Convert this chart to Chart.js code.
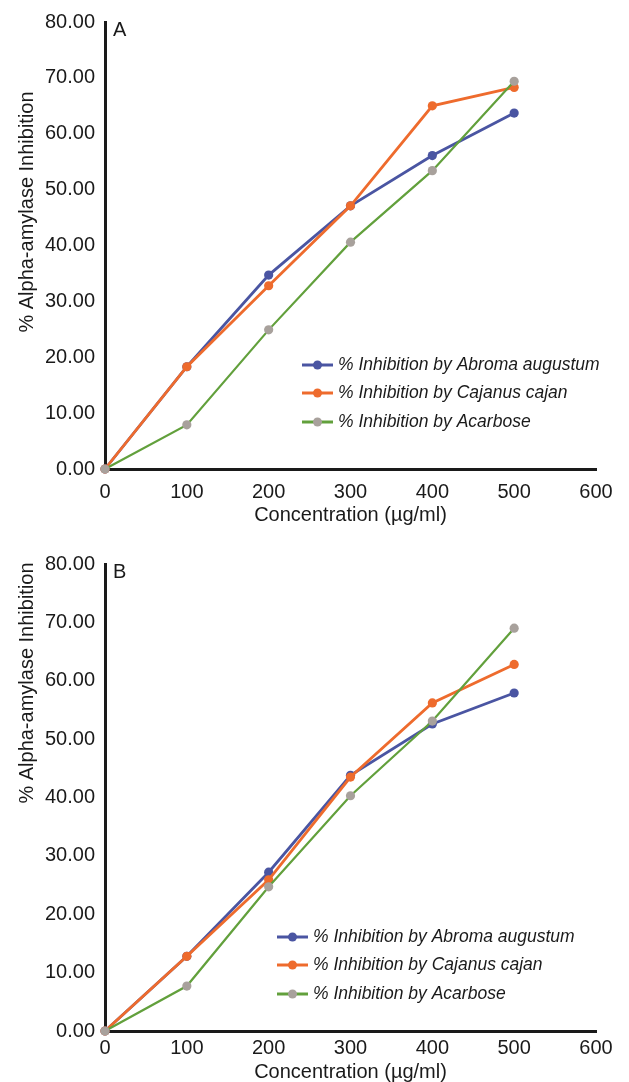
<!DOCTYPE html>
<html>
<head>
<meta charset="utf-8">
<title>Alpha-amylase inhibition</title>
<script src="https://cdn.jsdelivr.net/npm/chart.js@4.4.0/dist/chart.umd.min.js"></script>
<style>
  html, body { margin: 0; padding: 0; background: #fff; overflow: hidden; }
  #wrap { position: relative; width: 629px; height: 1082px; }
  canvas { position: absolute; left: 0; }
</style>
</head>
<body>
<div id="wrap">
  <canvas id="chartA" width="629" height="530" style="top:0"></canvas>
  <canvas id="chartB" width="629" height="552" style="top:530px"></canvas>
</div>
<script>
// concentrations tested (µg/ml)
const concentrations = [0, 100, 200, 300, 400, 500];
const seriesNames = [
  "% Inhibition by Abroma augustum",
  "% Inhibition by Cajanus cajan",
  "% Inhibition by Acarbose"
];

// panel A
const abromaA   = [0, 18.3, 34.7, 47.1, 56.1, 63.7];
const cajanusA  = [0, 18.3, 32.8, 47.1, 65.0, 68.3];
const acarboseA = [0, 7.9, 24.9, 40.6, 53.4, 69.4];

// panel B
const abromaB   = [0, 12.8, 27.2, 43.8, 52.6, 57.9];
const cajanusB  = [0, 12.8, 25.9, 43.5, 56.2, 62.8];
const acarboseB = [0, 7.7, 24.7, 40.3, 53.1, 69.0];

const xTicks = [0, 100, 200, 300, 400, 500, 600];
const yTicks = [0, 10, 20, 30, 40, 50, 60, 70, 80];

const FONT = "'Liberation Sans', Arial, sans-serif";
const INK = "#1a1a1a";

const styles = [
  { line: "#4a55a2", dot: "#4a55a2", width: 2.8 },
  { line: "#ee6b2d", dot: "#ee6b2d", width: 2.8 },
  { line: "#62a03c", dot: "#a8a19c", width: 2.2 }
];

function toPoints(vals) {
  return concentrations.map((c, i) => ({ x: c, y: vals[i] }));
}

// panel letter, rotated y title and the in-plot legend
const panelDecor = {
  id: "panelDecor",
  afterDatasetsDraw(chart, args, opts) {
    const ctx = chart.ctx;
    const area = chart.chartArea;
    ctx.save();
    ctx.fillStyle = INK;
    ctx.font = "20px " + FONT;
    ctx.textAlign = "left";
    ctx.textBaseline = "middle";
    ctx.fillText(opts.letter, area.left + 8, area.top + 8);

    ctx.save();
    ctx.translate(27, opts.yTitleY);
    ctx.rotate(-Math.PI / 2);
    ctx.textAlign = "center";
    ctx.fillText("% Alpha-amylase Inhibition", 0, 0);
    ctx.restore();

    chart.data.datasets.forEach((ds, i) => {
      const y = opts.legendRows[i];
      const x0 = opts.legendX;
      ctx.strokeStyle = ds.borderColor;
      ctx.lineWidth = 3;
      ctx.beginPath();
      ctx.moveTo(x0, y);
      ctx.lineTo(x0 + 31, y);
      ctx.stroke();
      ctx.fillStyle = ds.pointBackgroundColor;
      ctx.beginPath();
      ctx.arc(x0 + 15.5, y, 4.5, 0, Math.PI * 2);
      ctx.fill();
      ctx.fillStyle = INK;
      ctx.font = "italic 17.5px " + FONT;
      ctx.textAlign = "left";
      ctx.fillText(ds.label, opts.legendTextX, y);
    });
    ctx.restore();
  }
};

function makePanel(id, series, p) {
  const canvas = document.getElementById(id);
  const h = canvas.height;
  return new Chart(canvas, {
    type: "line",
    data: {
      datasets: series.map((vals, i) => ({
        label: seriesNames[i],
        data: toPoints(vals),
        borderColor: styles[i].line,
        backgroundColor: styles[i].line,
        pointBackgroundColor: styles[i].dot,
        pointBorderWidth: 0,
        pointRadius: 4.6,
        borderWidth: styles[i].width,
        tension: 0,
        clip: false,
        order: 3 - i
      }))
    },
    options: {
      responsive: false,
      animation: false,
      layout: { padding: { top: p.top, right: 33, left: 0, bottom: 0 } },
      plugins: {
        legend: { display: false },
        tooltip: { enabled: false },
        panelDecor: p.decor
      },
      scales: {
        x: {
          type: "linear",
          min: 0,
          max: 600,
          afterBuildTicks: s => { s.ticks = xTicks.map(v => ({ value: v })); },
          afterFit: s => { s.height = h - p.bottom; },
          grid: { drawOnChartArea: false, drawTicks: false },
          border: { color: INK, width: 3 },
          ticks: { color: INK, font: { family: FONT, size: 20 }, padding: p.xTickPad },
          title: {
            display: true,
            text: "Concentration (µg/ml)",
            color: INK,
            font: { family: FONT, size: 20, lineHeight: 1 },
            padding: { top: 0, bottom: p.xTitlePad }
          }
        },
        y: {
          min: 0,
          max: 80,
          afterBuildTicks: s => { s.ticks = yTicks.map(v => ({ value: v })); },
          afterFit: s => { s.width = 105; },
          grid: { drawOnChartArea: false, drawTicks: false },
          border: { color: INK, width: 3 },
          ticks: {
            color: INK,
            font: { family: FONT, size: 20 },
            padding: 10,
            callback: v => v.toFixed(2)
          }
        }
      }
    },
    plugins: [panelDecor]
  });
}

makePanel("chartA", [abromaA, cajanusA, acarboseA], {
  top: 16, bottom: 469, xTickPad: 11, xTitlePad: 5,
  decor: { letter: "A", yTitleY: 212, legendX: 302, legendTextX: 338, legendRows: [365, 393, 422] }
});

makePanel("chartB", [abromaB, cajanusB, acarboseB], {
  top: 34, bottom: 501, xTickPad: 5, xTitlePad: 0,
  decor: { letter: "B", yTitleY: 153, legendX: 277, legendTextX: 313, legendRows: [407, 435, 464] }
});
</script>
</body>
</html>
